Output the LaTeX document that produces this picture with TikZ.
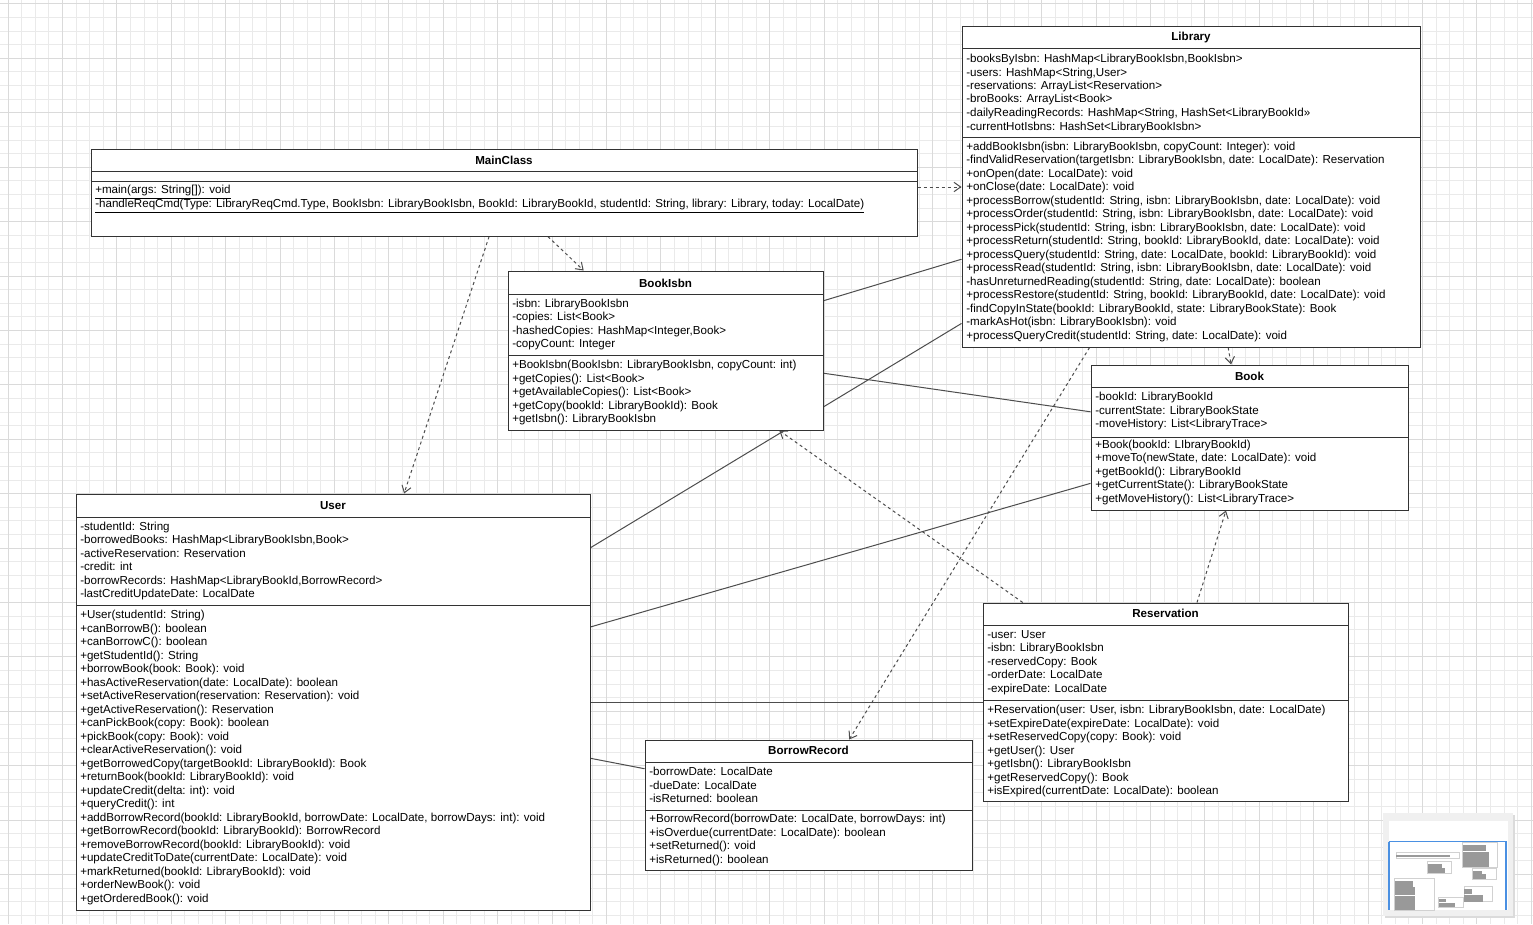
\documentclass[tikz,border=0pt]{standalone}
\usepackage{fontspec}
\setmainfont{Liberation Sans}
\usetikzlibrary{arrows.meta,calc,fit}
\definecolor{bord}{HTML}{333333}
\definecolor{conn}{HTML}{4D4D4D}
\definecolor{gridminor}{HTML}{EAEAEA}
\definecolor{gridmajor}{HTML}{DADADA}
\definecolor{mmblue}{HTML}{4A90E2}
\newcommand\pe[4]{($(#1.#2)!#4!(#1.#3)$)}
\newcommand\umlbox[5]{\coordinate (#1-nw) at (#2,#3); \coordinate (#1-se) at (#4,#5);
  \node[cls, fit=(#1-nw)(#1-se)] (#1) {};}
\newcommand\rows[4]{\foreach \lbl [count=\i from 0] in {#4} {\node[txt] (#1\i) at (#2, #3+4+13.5*\i) {\lbl};}}
\tikzset{
  cls/.style={draw=bord, fill=white, inner sep=0pt, line width=0.75pt},
  sepline/.style={draw=bord, line width=0.75pt},
  txt/.style={inner sep=0pt, font=\fontsize{8.7}{10}\selectfont, anchor=base west},
  ttl/.style={inner sep=0pt, font=\fontsize{8.7}{10}\selectfont\bfseries},
  dep/.style={draw=conn, line width=0.75pt, dash pattern=on 2.25pt off 2.25pt, -{Straight Barb[length=5pt,width=7pt]}},
  assoc/.style={draw=conn, line width=0.75pt},
}
\begin{document}
\begin{tikzpicture}[x=0.75pt,y=-0.75pt]
\useasboundingbox (0,0) rectangle (1533,924);
\fill[white] (0,0) rectangle (1533,924);
% grid
\foreach \g in {0,...,112} {\draw[gridminor, line width=0.75pt] (8+13.6*\g,0) -- (8+13.6*\g,924);}
\foreach \g in {0,...,68} {\draw[gridminor, line width=0.75pt] (0,4+13.6*\g) -- (1533,4+13.6*\g);}
\foreach \g in {0,...,28} {\draw[gridmajor, line width=0.75pt] (8+54.4*\g,0) -- (8+54.4*\g,924);}
\foreach \g in {0,...,17} {\draw[gridmajor, line width=0.75pt] (0,4+54.4*\g) -- (1533,4+54.4*\g);}

% boxes
\umlbox{lib}{962}{27}{1420}{347}
\umlbox{main}{91}{149}{917}{236}
\umlbox{bisbn}{508}{271}{823}{430}
\umlbox{book}{1091}{365}{1408}{510}
\umlbox{user}{76}{494}{590}{910}
\umlbox{res}{983}{603}{1348}{801}
\umlbox{brec}{645}{740}{972}{870}

% connectors
\draw[dep] (main.east |- lib.west) -- (lib.west);
\draw[dep] \pe{main}{south west}{south east}{0.553} -- \pe{bisbn}{north west}{north east}{0.241};
\draw[dep] \pe{main}{south west}{south east}{0.482} -- \pe{user}{north west}{north east}{0.638};
\draw[assoc] \pe{lib}{north west}{south west}{0.725} -- \pe{bisbn}{north east}{south east}{0.189};
\draw[assoc] \pe{lib}{north west}{south west}{0.925} -- \pe{user}{north east}{south east}{0.130};
\draw[dep] \pe{lib}{south west}{south east}{0.581} -- \pe{book}{north west}{north east}{0.442};
\draw[dep] \pe{lib}{south west}{south east}{0.279} -- \pe{brec}{north west}{north east}{0.624};
\draw[assoc] \pe{bisbn}{north east}{south east}{0.642} -- \pe{book}{north west}{south west}{0.324};
\draw[assoc] \pe{user}{north east}{south east}{0.320} -- \pe{book}{north west}{south west}{0.814};
\draw[dep] \pe{res}{north west}{north east}{0.110} -- \pe{bisbn}{south west}{south east}{0.860};
\draw[dep] \pe{res}{north west}{north east}{0.586} -- \pe{book}{south west}{south east}{0.426};
\draw[assoc] (user.east) -- (res.west);
\draw[assoc] \pe{user}{north east}{south east}{0.635} -- \pe{brec}{north west}{south west}{0.223};

% redraw boxes on top
\node[cls, fit=(lib-nw)(lib-se)] (lib2) {};
\node[cls, fit=(main-nw)(main-se)] (main2) {};
\node[cls, fit=(bisbn-nw)(bisbn-se)] (bisbn2) {};
\node[cls, fit=(book-nw)(book-se)] (book2) {};
\node[cls, fit=(user-nw)(user-se)] (user2) {};
\node[cls, fit=(res-nw)(res-se)] (res2) {};
\node[cls, fit=(brec-nw)(brec-se)] (brec2) {};

% Library
\draw[sepline] (962,49) -- (1420,49);
\draw[sepline] (962,137) -- (1420,137);
\node[ttl] (lib-t) at (1191,38) {Library};
\rows{libA}{966}{58.5}{{-booksByIsbn: HashMap<LibraryBookIsbn,BookIsbn>},{-users: HashMap<String,User>},{-reservations: ArrayList<Reservation>},{-broBooks: ArrayList<Book>},{-dailyReadingRecords: HashMap<String, HashSet<LibraryBookId>>},{-currentHotIsbns: HashSet<LibraryBookIsbn>}}
\rows{libM}{966}{146}{{+addBookIsbn(isbn: LibraryBookIsbn, copyCount: Integer): void},{-findValidReservation(targetIsbn: LibraryBookIsbn, date: LocalDate): Reservation},{+onOpen(date: LocalDate): void},{+onClose(date: LocalDate): void},{+processBorrow(studentId: String, isbn: LibraryBookIsbn, date: LocalDate): void},{+processOrder(studentId: String, isbn: LibraryBookIsbn, date: LocalDate): void},{+processPick(studentId: String, isbn: LibraryBookIsbn, date: LocalDate): void},{+processReturn(studentId: String, bookId: LibraryBookId, date: LocalDate): void},{+processQuery(studentId: String, date: LocalDate, bookId: LibraryBookId): void},{+processRead(studentId: String, isbn: LibraryBookIsbn, date: LocalDate): void},{-hasUnreturnedReading(studentId: String, date: LocalDate): boolean},{+processRestore(studentId: String, bookId: LibraryBookId, date: LocalDate): void},{-findCopyInState(bookId: LibraryBookId, state: LibraryBookState): Book},{-markAsHot(isbn: LibraryBookIsbn): void},{+processQueryCredit(studentId: String, date: LocalDate): void}}

% MainClass
\draw[sepline] (91,171) -- (917,171);
\draw[sepline] (91,181) -- (917,181);
\node[ttl] (main-t) at (504,160) {MainClass};
\node[txt] (mainM0) at (95,193.5) {\underline{+main(args: String[]): void}};
\node[txt] (mainM1) at (95,207.5) {\underline{-handleReqCmd(Type: LibraryReqCmd.Type, BookIsbn: LibraryBookIsbn, BookId: LibraryBookId, studentId: String, library: Library, today: LocalDate)}};

% BookIsbn
\draw[sepline] (508,294) -- (823,294);
\draw[sepline] (508,355) -- (823,355);
\node[ttl] (bisbn-t) at (665.5,283) {BookIsbn};
\rows{bisbnA}{512}{303}{{-isbn: LibraryBookIsbn},{-copies: List<Book>},{-hashedCopies: HashMap<Integer,Book>},{-copyCount: Integer}}
\rows{bisbnM}{512}{364.5}{{+BookIsbn(BookIsbn: LibraryBookIsbn, copyCount: int)},{+getCopies(): List<Book>},{+getAvailableCopies(): List<Book>},{+getCopy(bookId: LibraryBookId): Book},{+getIsbn(): LibraryBookIsbn}}

% Book
\draw[sepline] (1091,387) -- (1408,387);
\draw[sepline] (1091,437) -- (1408,437);
\node[ttl] (book-t) at (1249.5,376) {Book};
\rows{bookA}{1095}{396.5}{{-bookId: LibraryBookId},{-currentState: LibraryBookState},{-moveHistory: List<LibraryTrace>}}
\rows{bookM}{1095}{444}{{+Book(bookId: LIbraryBookId)},{+moveTo(newState, date: LocalDate): void},{+getBookId(): LibraryBookId},{+getCurrentState(): LibraryBookState},{+getMoveHistory(): List<LibraryTrace>}}

% User
\draw[sepline] (76,517) -- (590,517);
\draw[sepline] (76,605) -- (590,605);
\node[ttl] (user-t) at (333,505.5) {User};
\rows{userA}{80}{526}{{-studentId: String},{-borrowedBooks: HashMap<LibraryBookIsbn,Book>},{-activeReservation: Reservation},{-credit: int},{-borrowRecords: HashMap<LibraryBookId,BorrowRecord>},{-lastCreditUpdateDate: LocalDate}}
\rows{userM}{80}{614.5}{{+User(studentId: String)},{+canBorrowB(): boolean},{+canBorrowC(): boolean},{+getStudentId(): String},{+borrowBook(book: Book): void},{+hasActiveReservation(date: LocalDate): boolean},{+setActiveReservation(reservation: Reservation): void},{+getActiveReservation(): Reservation},{+canPickBook(copy: Book): boolean},{+pickBook(copy: Book): void},{+clearActiveReservation(): void},{+getBorrowedCopy(targetBookId: LibraryBookId): Book},{+returnBook(bookId: LibraryBookId): void},{+updateCredit(delta: int): void},{+queryCredit(): int},{+addBorrowRecord(bookId: LibraryBookId, borrowDate: LocalDate, borrowDays: int): void},{+getBorrowRecord(bookId: LibraryBookId): BorrowRecord},{+removeBorrowRecord(bookId: LibraryBookId): void},{+updateCreditToDate(currentDate: LocalDate): void},{+markReturned(bookId: LibraryBookId): void},{+orderNewBook(): void},{+getOrderedBook(): void}}

% Reservation
\draw[sepline] (983,625) -- (1348,625);
\draw[sepline] (983,700) -- (1348,700);
\node[ttl] (res-t) at (1165.5,613.5) {Reservation};
\rows{resA}{987}{634}{{-user: User},{-isbn: LibraryBookIsbn},{-reservedCopy: Book},{-orderDate: LocalDate},{-expireDate: LocalDate}}
\rows{resM}{987}{709.5}{{+Reservation(user: User, isbn: LibraryBookIsbn, date: LocalDate)},{+setExpireDate(expireDate: LocalDate): void},{+setReservedCopy(copy: Book): void},{+getUser(): User},{+getIsbn(): LibraryBookIsbn},{+getReservedCopy(): Book},{+isExpired(currentDate: LocalDate): boolean}}

% BorrowRecord
\draw[sepline] (645,762) -- (972,762);
\draw[sepline] (645,810) -- (972,810);
\node[ttl] (brec-t) at (808.5,750) {BorrowRecord};
\rows{brecA}{649}{771.5}{{-borrowDate: LocalDate},{-dueDate: LocalDate},{-isReturned: boolean}}
\rows{brecM}{649}{818.5}{{+BorrowRecord(borrowDate: LocalDate, borrowDays: int)},{+isOverdue(currentDate: LocalDate): boolean},{+setReturned(): void},{+isReturned(): boolean}}

% minimap
\fill[black!14] (1385,815) rectangle (1515,918);
\fill[black!6] (1383,813) rectangle (1513,916);
\fill[white] (1389,821) rectangle (1508,910);
\begin{scope}[shift={(1389,840.6)}, scale=0.0763]
  \foreach \a/\b/\c/\d in {962/27/1420/347, 91/149/917/236, 508/271/823/430, 1091/365/1408/510, 76/494/590/910, 983/603/1348/801, 645/740/972/870} {
    \draw[black!18, line width=0.5pt] (\a,\b) rectangle (\c,\d);
  }
  \foreach \a/\b/\n/\w in {966/58/6/300, 966/146/15/340, 95/190/2/700, 512/303/4/180, 512/364/5/220, 1095/396/3/130, 1095/444/5/170, 80/526/6/230, 80/614/22/260, 987/634/5/100, 987/709/7/250, 649/771/3/100, 649/818/4/220} {
    \foreach \k in {1,...,\n} {\fill[black!40] (\a,\b+13.5*\k-16) rectangle (\a+\w,\b+13.5*\k-12);}
  }
\end{scope}
\draw[mmblue, line width=0.9pt] (1389,841.5) -- (1506,841.5) -- (1506,910);
\draw[mmblue, line width=0.9pt] (1389,841.5) -- (1389,910);
\end{tikzpicture}
\end{document}
